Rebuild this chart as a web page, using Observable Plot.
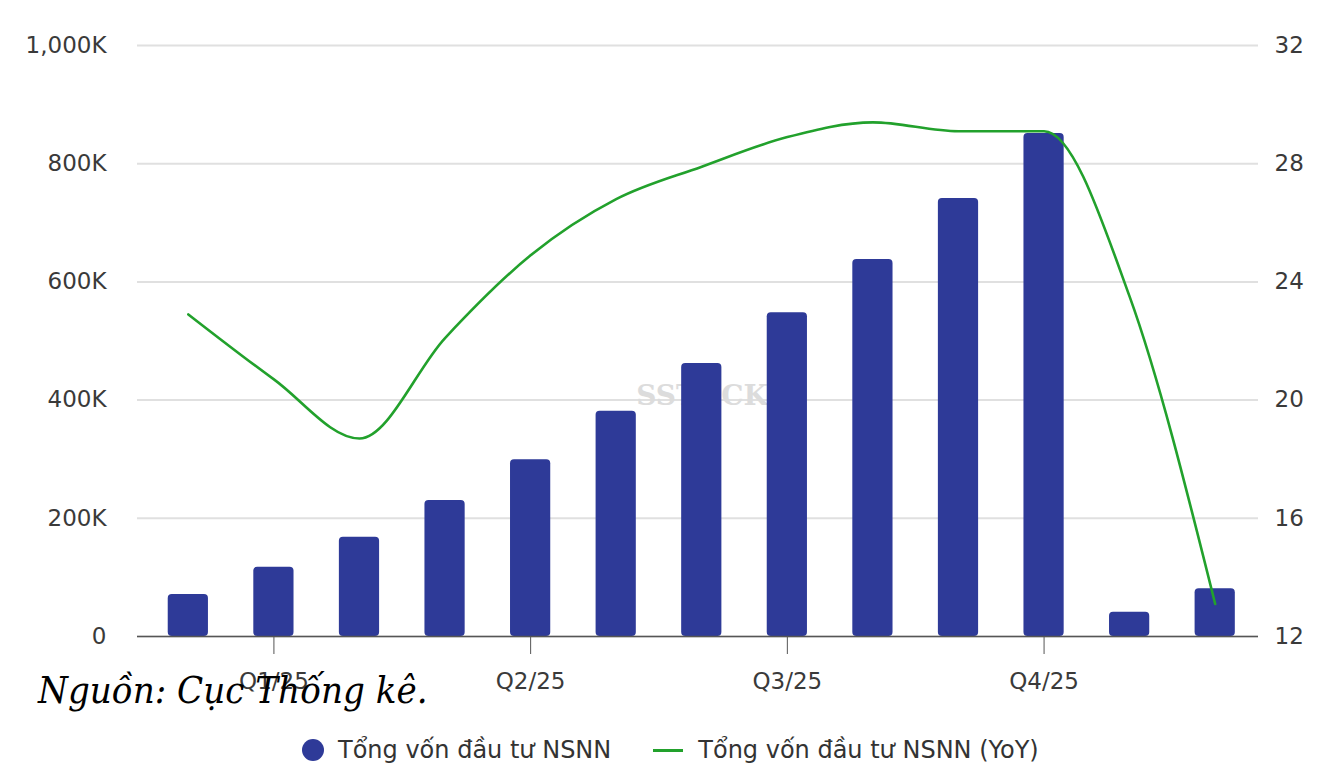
<!DOCTYPE html>
<html>
<head>
<meta charset="utf-8">
<script src="https://cdn.jsdelivr.net/npm/d3@7"></script>
<script src="https://cdn.jsdelivr.net/npm/@observablehq/plot@0.6"></script>
<style>
  html, body { margin: 0; padding: 0; background: #ffffff; }
  #wrap { position: relative; width: 1330px; height: 766px; overflow: hidden; font-family: "DejaVu Sans", sans-serif; }
  #chart { position: absolute; left: 0; top: 0; }
  #caption { position: absolute; left: 38px; top: 668px; font-family: "DejaVu Serif Condensed", "DejaVu Serif", serif; font-style: italic; font-size: 38px; color: #000; white-space: nowrap; }
  #legend { position: absolute; top: 736px; left: 302px; display: flex; align-items: center; font-size: 24px; color: #333; white-space: nowrap; }
  .item { display: flex; align-items: center; }
  .dot { width: 22px; height: 22px; border-radius: 50%; background: #2e3a98; margin-right: 14px; }
  .ln { width: 30px; height: 3px; background: #22a12c; margin-left: 42px; margin-right: 15px; }
</style>
</head>
<body>
<div id="wrap">
  <div id="chart"></div>
  <div id="caption">Nguồn: Cục Thống kê.</div>
  <div id="legend">
    <div class="item"><span class="dot"></span><span>Tổng vốn đầu tư NSNN</span></div>
    <div class="item"><span class="ln"></span><span>Tổng vốn đầu tư NSNN (YoY)</span></div>
  </div>
</div>
<script>
// ---- data ----
const months = ["01/25","02/25","03/25","04/25","05/25","06/25","07/25","08/25","09/25","10/25","11/25","01/26","02/26"];
const capital = [71000,117000,168000,230000,299000,381000,462000,548000,638000,741000,851000,41000,81000];
const yoy = [22.9,20.7,18.7,22.1,24.9,26.8,27.9,28.9,29.4,29.1,29.1,23.5,13.1];
const quarterTickMonths = ["02/25","05/25","08/25","11/25"];
const quarterLabels = ["Q1/25","Q2/25","Q3/25","Q4/25"];
const leftTicks = [0,200000,400000,600000,800000,1000000];
const rightTicks = [12,16,20,24,28,32];

// ---- build ----
const leftMax = 1000000, rMin = 12, rMax = 32;
const toLeft = v => (v - rMin) / (rMax - rMin) * leftMax;
const rows = months.map((m, i) => ({month: m, capital: capital[i], yoy: yoy[i], yoyScaled: toLeft(yoy[i])}));
const qMap = new Map(quarterTickMonths.map((m, i) => [m, quarterLabels[i]]));
const rMap = new Map(rightTicks.map(t => [toLeft(t), t]));
const leftFmt = d => d === 0 ? "0" : d3.format(",")(d / 1000) + "K";

const chart = Plot.plot({
  width: 1330,
  height: 700,
  marginTop: 45,
  marginBottom: 64,
  marginLeft: 137,
  marginRight: 72,
  style: {fontFamily: "'DejaVu Sans', sans-serif", fontSize: "23px", color: "#3a3a3a", background: "transparent"},
  x: {domain: months, paddingInner: 0.53, paddingOuter: 0.315, align: 0.57, round: false, axis: null},
  y: {domain: [0, leftMax], axis: null},
  marks: [
    Plot.gridY(leftTicks, {stroke: "#e0e0e0", strokeOpacity: 1, strokeWidth: 2}),
    Plot.text(["SSTOCK"], {frameAnchor: "middle", dx: 4, dy: 55, fill: "#dcdcdc", fontSize: 28, fontWeight: "bold", fontFamily: "DejaVu Serif, serif", letterSpacing: "2px"}),
    Plot.barY(rows, {x: "month", y: "capital", fill: "#2e3a98", rx: 4}),
    Plot.ruleY([0], {stroke: "#555", strokeWidth: 1.5}),
    Plot.line(rows, {x: "month", y: "yoyScaled", stroke: "#22a12c", strokeWidth: 2.6, curve: "monotone-x"}),
    Plot.axisY(leftTicks, {anchor: "left", label: null, tickSize: 0, tickPadding: 31, tickFormat: leftFmt, fill: "#3a3a3a"}),
    Plot.axisY(rightTicks.map(toLeft), {anchor: "right", label: null, tickSize: 0, tickPadding: 16, tickFormat: d => rMap.get(d), fill: "#3a3a3a", textAnchor: "start"}),
    Plot.axisX(quarterTickMonths, {anchor: "bottom", label: null, tickSize: 18, tickPadding: 18, stroke: "#555", tickFormat: d => qMap.get(d), fill: "#3a3a3a"})
  ]
});
document.getElementById("chart").appendChild(chart);
</script>
</body>
</html>
